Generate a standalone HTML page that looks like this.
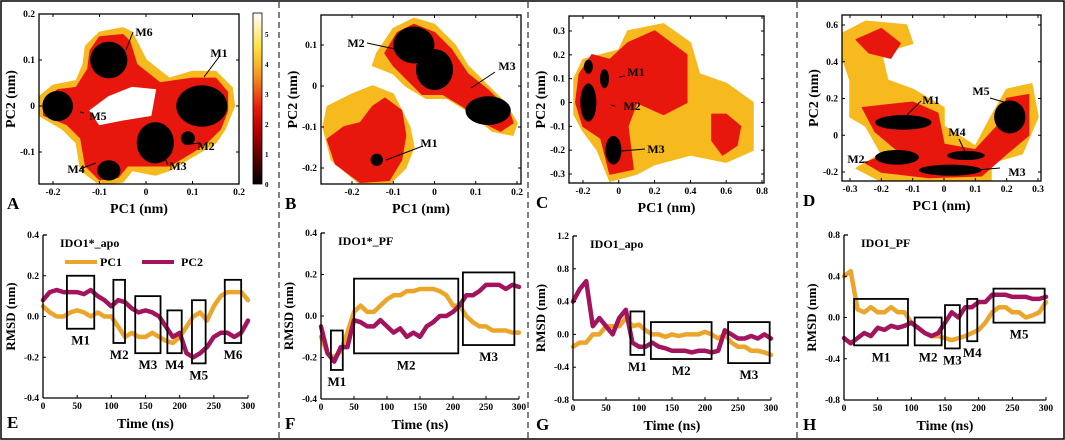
<!DOCTYPE html>
<html><head><meta charset="utf-8">
<style>
html,body{margin:0;padding:0;background:#fff;}
svg{display:block;font-family:"Liberation Serif",serif;font-weight:bold;}
</style></head>
<body>
<svg id="fig" width="1065" height="440" viewBox="0 0 1065 440">
<defs>
<linearGradient id="cbar" x1="0" y1="1" x2="0" y2="0">
<stop offset="0" stop-color="#000"/><stop offset="0.3" stop-color="#b00000"/><stop offset="0.45" stop-color="#e81c0c"/><stop offset="0.65" stop-color="#f5a020"/><stop offset="0.8" stop-color="#ffe040"/><stop offset="1" stop-color="#fff"/>
</linearGradient>
</defs>
</svg>
<script>
// ---------- Line-plot data (value every 10 ns, 0..300) ----------
const timeNs = [0,10,20,30,40,50,60,70,80,90,100,110,120,130,140,150,160,170,180,190,200,210,220,230,240,250,260,270,280,290,300];
const E_pc1 = [0.05,0.02,0.0,0.0,0.02,0.03,0.02,0.0,0.02,0.0,0.0,-0.05,-0.1,-0.08,-0.1,-0.1,-0.08,-0.1,-0.12,-0.13,-0.1,-0.05,0.0,0.02,-0.02,0.05,0.1,0.12,0.12,0.12,0.08];
const E_pc2 = [0.08,0.12,0.13,0.12,0.12,0.12,0.11,0.13,0.1,0.08,0.05,0.08,0.07,0.04,0.02,0.03,0.02,0.0,-0.05,-0.1,-0.08,-0.18,-0.2,-0.18,-0.15,-0.1,-0.08,-0.08,-0.1,-0.08,-0.02];
const F_pc1 = [-0.1,-0.18,-0.2,-0.17,-0.08,0.02,0.05,0.02,0.02,0.05,0.08,0.1,0.1,0.12,0.12,0.13,0.13,0.13,0.12,0.1,0.05,0.05,0.0,-0.03,-0.05,-0.05,-0.07,-0.07,-0.07,-0.08,-0.08];
const F_pc2 = [-0.05,-0.18,-0.22,-0.15,-0.15,-0.02,-0.03,-0.05,-0.05,-0.02,-0.05,-0.08,-0.06,-0.1,-0.08,-0.1,-0.05,-0.03,0.0,0.0,0.02,0.05,0.1,0.1,0.12,0.15,0.15,0.15,0.13,0.15,0.14];
const G_pc1 = [-0.15,-0.1,-0.1,0.0,0.0,0.1,0.1,0.1,0.2,0.1,0.12,0.05,0.0,0.0,-0.03,0.0,-0.02,0.0,0.0,0.0,0.03,0.0,-0.05,0.0,-0.1,-0.15,-0.15,-0.2,-0.2,-0.22,-0.25];
const G_pc2 = [0.4,0.55,0.65,0.1,0.2,0.1,0.0,0.2,0.3,-0.1,-0.15,-0.15,-0.1,-0.15,-0.17,-0.2,-0.2,-0.2,-0.22,-0.2,-0.2,-0.22,-0.2,0.05,0.0,-0.05,-0.05,-0.02,-0.05,0.0,-0.05];
const H_pc1 = [0.4,0.45,0.08,0.05,0.1,0.05,0.05,0.1,0.05,0.05,-0.05,-0.1,-0.15,-0.18,-0.18,-0.2,-0.22,-0.2,-0.18,-0.15,-0.12,-0.05,0.05,0.1,0.1,0.05,0.05,0.0,0.02,0.05,0.15];
const H_pc2 = [-0.2,-0.25,-0.2,-0.15,-0.18,-0.1,-0.12,-0.08,-0.1,-0.08,-0.05,-0.1,-0.15,-0.18,-0.15,-0.05,0.05,0.0,0.1,0.1,0.15,0.15,0.22,0.22,0.22,0.2,0.2,0.2,0.18,0.18,0.2];
// boxes: [t0,t1,y0,y1]
const E_boxes = [[35,75,-0.06,0.2],[103,120,-0.13,0.18],[135,172,-0.18,0.1],[182,203,-0.18,0.03],[218,238,-0.23,0.08],[266,290,-0.13,0.18]];
const F_boxes = [[15,33,-0.26,-0.07],[50,208,-0.18,0.18],[215,293,-0.14,0.21]];
const G_boxes = [[87,108,-0.25,0.28],[118,210,-0.3,0.15],[235,298,-0.35,0.15]];
const H_boxes = [[15,95,-0.27,0.18],[105,145,-0.27,0.0],[150,172,-0.3,0.12],[183,198,-0.23,0.18],[222,298,-0.05,0.28]];
const boxLabels = ["M1","M2","M3","M4","M5","M6"];

// ---------- Free-energy landscape shapes (data units) ----------
const A_yellow = [[-0.23,0.02],[-0.2,0.045],[-0.15,0.055],[-0.135,0.09],[-0.13,0.13],[-0.1,0.16],[-0.05,0.17],[-0.03,0.16],[0,0.1],[0.05,0.06],[0.1,0.075],[0.15,0.075],[0.185,0.04],[0.19,0.0],[0.17,-0.05],[0.15,-0.08],[0.1,-0.11],[0.05,-0.14],[0.02,-0.15],[-0.03,-0.14],[-0.05,-0.165],[-0.1,-0.17],[-0.14,-0.14],[-0.15,-0.08],[-0.18,-0.05],[-0.23,-0.02]];
const A_red = [[-0.22,0.01],[-0.19,0.035],[-0.15,0.04],[-0.125,0.08],[-0.12,0.12],[-0.1,0.15],[-0.05,0.155],[-0.035,0.14],[-0.02,0.09],[0.03,0.05],[0.1,0.06],[0.15,0.06],[0.175,0.03],[0.175,-0.01],[0.16,-0.05],[0.13,-0.08],[0.1,-0.1],[0.05,-0.13],[0.0,-0.13],[-0.04,-0.13],[-0.06,-0.155],[-0.1,-0.16],[-0.13,-0.13],[-0.14,-0.07],[-0.17,-0.04],[-0.22,-0.02]];
const A_holes = [[[-0.12,-0.01],[-0.08,0.02],[-0.03,0.04],[0.02,0.035],[0.01,-0.02],[-0.05,-0.03],[-0.1,-0.04]]];
const A_black = [[0.12,0.0,0.055,0.045],[-0.08,0.1,0.04,0.04],[-0.19,0.0,0.033,0.033],[0.02,-0.08,0.04,0.045],[0.09,-0.07,0.015,0.015],[-0.08,-0.14,0.025,0.022]];
const B_yellow = [[[-0.14,0.08],[-0.1,0.14],[-0.05,0.165],[0,0.15],[0.05,0.1],[0.08,0.05],[0.12,0.01],[0.17,-0.04],[0.2,-0.09],[0.19,-0.12],[0.14,-0.11],[0.08,-0.06],[0.03,-0.03],[-0.02,-0.03],[-0.07,0.0],[-0.1,0.03],[-0.15,0.05]],[[-0.26,-0.05],[-0.2,-0.02],[-0.15,0.0],[-0.1,-0.02],[-0.06,-0.1],[-0.05,-0.15],[-0.07,-0.2],[-0.11,-0.24],[-0.18,-0.24],[-0.25,-0.18],[-0.27,-0.1]]];
const B_red = [[[-0.12,0.08],[-0.09,0.13],[-0.05,0.15],[0,0.13],[0.04,0.09],[0.08,0.03],[0.13,-0.01],[0.18,-0.06],[0.19,-0.09],[0.16,-0.11],[0.12,-0.09],[0.07,-0.05],[0.02,-0.02],[-0.03,-0.02],[-0.07,0.02],[-0.1,0.05]],[[-0.26,-0.13],[-0.22,-0.1],[-0.18,-0.09],[-0.15,-0.05],[-0.12,-0.03],[-0.08,-0.06],[-0.07,-0.12],[-0.08,-0.18],[-0.11,-0.23],[-0.18,-0.235],[-0.24,-0.19]]];
const B_black = [[-0.05,0.1,0.05,0.045],[0.0,0.04,0.045,0.05],[0.13,-0.06,0.055,0.035],[-0.14,-0.18,0.015,0.015]];
const C_yellow = [[[-0.25,0.1],[-0.2,0.18],[0,0.22],[0.05,0.3],[0.25,0.33],[0.4,0.25],[0.45,0.12],[0.6,0.08],[0.75,0.0],[0.75,-0.2],[0.6,-0.25],[0.4,-0.22],[0.2,-0.26],[0.1,-0.3],[-0.05,-0.33],[-0.12,-0.2],[-0.2,-0.12],[-0.25,-0.05]]];
const C_red = [[[-0.22,0.12],[-0.15,0.2],[-0.05,0.18],[0.05,0.25],[0.2,0.3],[0.38,0.2],[0.38,0.0],[0.25,-0.05],[0.1,0.0],[0.05,-0.1],[0.08,-0.28],[-0.05,-0.3],[-0.1,-0.15],[-0.2,-0.1],[-0.24,0.0]],[[0.52,-0.05],[0.6,-0.05],[0.68,-0.1],[0.66,-0.18],[0.58,-0.22],[0.52,-0.16]]];
const C_black = [[-0.17,0.15,0.025,0.03],[-0.08,0.1,0.025,0.04],[-0.17,0.0,0.045,0.08],[-0.03,-0.2,0.045,0.06]];
const D_yellow = [[[-0.33,0.55],[-0.25,0.62],[-0.12,0.6],[-0.1,0.5],[-0.2,0.45],[-0.18,0.3],[-0.1,0.25],[0.0,0.15],[0.0,0.05],[0.1,-0.06],[0.15,0.1],[0.2,0.25],[0.28,0.28],[0.3,0.1],[0.25,-0.1],[0.15,-0.15],[0.15,-0.25],[-0.2,-0.25],[-0.28,-0.18],[-0.2,-0.1],[-0.25,0.05],[-0.3,0.1],[-0.3,0.3],[-0.33,0.45]]];
const D_red = [[[-0.28,0.52],[-0.2,0.58],[-0.14,0.5],[-0.17,0.42],[-0.24,0.45]],[[-0.26,0.15],[-0.1,0.18],[-0.02,0.12],[0.0,-0.05],[0.1,-0.08],[0.17,0.05],[0.2,0.2],[0.27,0.22],[0.27,0.0],[0.2,-0.1],[0.12,-0.22],[-0.05,-0.23],[-0.2,-0.2],[-0.25,-0.15],[-0.15,-0.08],[-0.22,0.02]]];
const D_black = [[-0.13,0.07,0.09,0.04],[-0.15,-0.12,0.07,0.04],[0.02,-0.19,0.1,0.03],[0.07,-0.11,0.06,0.025],[0.21,0.1,0.05,0.09]];

// ---------- tick labels ----------
const A_xt=[-0.2,-0.1,0,0.1,0.2], A_yt=[-0.1,0,0.1,0.2];
const B_xt=[-0.2,-0.1,0,0.1,0.2], B_yt=[-0.2,-0.1,0,0.1];
const C_xt=[-0.2,0,0.2,0.4,0.6,0.8], C_yt=[-0.3,-0.2,-0.1,0,0.1,0.2,0.3];
const D_xt=[-0.3,-0.2,-0.1,0,0.1,0.2,0.3], D_yt=[-0.2,0,0.2,0.4,0.6];
const tTicks=[0,50,100,150,200,250,300];
const E_yt=[-0.4,-0.2,0.0,0.2,0.4], F_yt=[-0.4,-0.2,0.0,0.2,0.4], G_yt=[-0.8,-0.4,0.0,0.4,0.8,1.2], H_yt=[-0.8,-0.4,0.0,0.4,0.8];
const cbarTicks=[0,1,2,3,4,5];

const svg=document.getElementById('fig');
const NS='http://www.w3.org/2000/svg';
function mk(tag,attrs,parent){const e=document.createElementNS(NS,tag);for(const k in attrs)e.setAttribute(k,attrs[k]);(parent||svg).appendChild(e);return e;}
function txt(x,y,s,size,anchor,parent){const t=mk('text',{x:x,y:y,'font-size':size,'text-anchor':anchor||'middle'},parent);t.textContent=s;return t;}
function lin(d0,d1,r0,r1){return v=>r0+(v-d0)/(d1-d0)*(r1-r0);}
function fmt(v,dec){return v.toFixed(dec);}

const fr=mk('rect',{x:1,y:1,width:1063,height:438,fill:'none',stroke:'#000','stroke-width':1.5});

[279,528,797].forEach(x=>{const l=mk('line',{x1:x,y1:2,x2:x,y2:438,stroke:'#000','stroke-width':1,'stroke-dasharray':'6,4'});
});

function contour(cfg){
  const g=mk('g',{});
  
  
  const sx=lin(cfg.xd[0],cfg.xd[1],cfg.xr[0],cfg.xr[1]);
  const sy=lin(cfg.yd[0],cfg.yd[1],cfg.yr[0],cfg.yr[1]);
  const cid='clip'+cfg.id;
  const cp=mk('clipPath',{id:cid},g);
  mk('rect',{x:cfg.px0,y:cfg.py0,width:cfg.px1-cfg.px0,height:cfg.py1-cfg.py0},cp);
  const inner=mk('g',{'clip-path':'url(#'+cid+')'},g);
  const poly=(pts,fill,name)=>{const p=mk('polygon',{points:pts.map(q=>sx(q[0]).toFixed(1)+','+sy(q[1]).toFixed(1)).join(' '),fill:fill,stroke:fill,'stroke-width':1.5,'stroke-linejoin':'round'},inner);
    };
  cfg.yellow.forEach(p=>poly(p,'#f6b91e','contour-level-yellow'));
  cfg.red.forEach(p=>poly(p,'#e8170e','contour-level-red'));
  (cfg.holes||[]).forEach(p=>poly(p,'#fff','contour-hole'));
  cfg.black.forEach(b=>{const e=mk('ellipse',{cx:sx(b[0]),cy:sy(b[1]),rx:Math.abs(sx(b[0]+b[2])-sx(b[0])),ry:Math.abs(sy(b[1]+b[3])-sy(b[1])),fill:'#000'},inner);
    });
  const r=mk('rect',{x:cfg.px0,y:cfg.py0,width:cfg.px1-cfg.px0,height:cfg.py1-cfg.py0,fill:'none',stroke:'#000','stroke-width':1.3},g);
  
  cfg.xt.forEach(v=>{const x=sx(v);mk('line',{x1:x,y1:cfg.py1,x2:x,y2:cfg.py1-3,stroke:'#000'},g);mk('line',{x1:x,y1:cfg.py0,x2:x,y2:cfg.py0+3,stroke:'#000'},g);
    const t=txt(x,cfg.py1+11,v===0?'0':String(v),9.5,'middle',g);});
  cfg.yt.forEach(v=>{const y=sy(v);mk('line',{x1:cfg.px0,y1:y,x2:cfg.px0+3,y2:y,stroke:'#000'},g);mk('line',{x1:cfg.px1,y1:y,x2:cfg.px1-3,y2:y,stroke:'#000'},g);
    const t=txt(cfg.px0-4,y+3,v===0?'0':String(v),9.5,'end',g);});
  const xt=txt((cfg.px0+cfg.px1)/2,cfg.py1+29,'PC1 (nm)',14,'middle',g);
  const yt=txt(0,0,'PC2 (nm)',14,'middle',g);yt.setAttribute('transform','translate('+(cfg.px0-24)+','+((cfg.py0+cfg.py1)/2)+') rotate(-90)');
  
  const pl=txt(cfg.lx,cfg.py1+25,cfg.id,17,'start',g);
  cfg.labels.forEach(L=>{mk('line',{x1:L[0],y1:L[1],x2:L[2],y2:L[3],stroke:'#000','stroke-width':1},g);
    const t=txt(L[4],L[5],L[6],12,'middle',g);});
}

contour({id:'A',xd:[-0.2,0.2],xr:[53,239],yd:[0,0.2],yr:[106,14],px0:39,px1:239,py0:14,py1:184,lx:7,
  yellow:[A_yellow],red:[A_red],holes:A_holes,black:A_black,xt:A_xt,yt:A_yt,
  labels:[[204,77,219,57,219,57,'M1'],[200,143,190,144,206,150,'M2'],[163,154,168,165,178,170,'M3'],[80,169,96,163,76,173,'M4'],[80,112,84,113,98,120,'M5'],[126,50,133,32,144,36,'M6']]});
contour({id:'B',xd:[-0.2,0.2],xr:[352,517],yd:[0,0.1],yr:[86,45],px0:321,px1:521,py0:15,py1:184,lx:285,
  yellow:B_yellow,red:B_red,black:B_black,xt:B_xt,yt:B_yt,
  labels:[[367,43,395,49,356,47,'M2'],[495,72,471,88,507,70,'M3'],[423,146,386,160,429,147,'M1']]});
contour({id:'C',xd:[-0.2,0.8],xr:[583,762],yd:[-0.3,0.3],yr:[174,31],px0:569,px1:764,py0:16,py1:183,lx:536,
  yellow:C_yellow,red:C_red,black:C_black,xt:C_xt,yt:C_yt,
  labels:[[619,77,625,76,636,76,'M1'],[611,105,615,106,632,110,'M2'],[622,151,645,149,656,153,'M3']]});
contour({id:'D',xd:[-0.3,0.3],xr:[850,1038],yd:[-0.2,0.6],yr:[172,25],px0:842,px1:1041,py0:15,py1:181,lx:803,
  yellow:D_yellow,red:D_red,black:D_black,xt:D_xt,yt:D_yt,
  labels:[[907,115,921,101,931,104,'M1'],[863,162,868,162,856,163,'M2'],[965,171,1000,168,1017,176,'M3'],[966,154,959,139,957,136,'M4'],[1004,102,990,98,981,95,'M5']]});

const cb=mk('rect',{x:253,y:13,width:9,height:171,fill:'url(#cbar)',stroke:'#000','stroke-width':0.8});

const cbs=lin(0,5.7,184,13);
cbarTicks.forEach(v=>{const t=txt(265,cbs(v)+3,String(v),7,'start');});

function linePlot(cfg){
  const g=mk('g',{});
  
  
  const sx=lin(0,300,cfg.px0,cfg.px1);
  const sy=lin(cfg.yd[0],cfg.yd[1],cfg.py1,cfg.py0);
  const series=(vals,col,name)=>{const p=mk('polyline',{points:vals.map((v,i)=>sx(timeNs[i]).toFixed(1)+','+sy(v).toFixed(1)).join(' '),fill:'none',stroke:col,'stroke-width':4.5,'stroke-linejoin':'round','stroke-linecap':'round'},g);
    };
  series(cfg.pc1,'#eba52b','pc1-line');
  series(cfg.pc2,'#a3145e','pc2-line');
  cfg.boxes.forEach((b,i)=>{const r=mk('rect',{x:sx(b[0]),y:sy(b[3]),width:sx(b[1])-sx(b[0]),height:sy(b[2])-sy(b[3]),fill:'none',stroke:'#000','stroke-width':1.8},g);
    
    const t=txt((sx(b[0])+sx(b[1]))/2,sy(b[2])+16,boxLabels[i],13,'middle',g);});
  mk('line',{x1:cfg.px0,y1:cfg.py0,x2:cfg.px0,y2:cfg.py1,stroke:'#000','stroke-width':1.3},g);
  mk('line',{x1:cfg.px0,y1:cfg.py1,x2:cfg.px1,y2:cfg.py1,stroke:'#000','stroke-width':1.3},g);
  mk('line',{x1:cfg.px0,y1:cfg.py0,x2:cfg.px0+4,y2:cfg.py0,stroke:'#000','stroke-width':1.3},g);
  tTicks.forEach(v=>{const x=sx(v);mk('line',{x1:x,y1:cfg.py1,x2:x,y2:cfg.py1-3,stroke:'#000'},g);
    const t=txt(x,cfg.py1+11,String(v),9.5,'middle',g);});
  cfg.yt.forEach(v=>{const y=sy(v);mk('line',{x1:cfg.px0,y1:y,x2:cfg.px0+3,y2:y,stroke:'#000'},g);
    const t=txt(cfg.px0-4,y+3,fmt(v,1),9.5,'end',g);});
  const xt=txt((cfg.px0+cfg.px1)/2,cfg.py1+30,'Time (ns)',14,'middle',g);
  const yt=txt(0,0,'RMSD (nm)',13,'middle',g);yt.setAttribute('transform','translate('+(cfg.px0-28)+','+((cfg.py0+cfg.py1)/2)+') rotate(-90)');
  
  const ti=txt(cfg.px0+17,cfg.py0+12,cfg.title,12,'start',g);
  const pl=txt(cfg.lx,cfg.py1+30,cfg.id,17,'start',g);
}
linePlot({id:'E',px0:43,px1:248,py0:235,py1:398,yd:[-0.4,0.4],yt:E_yt,pc1:E_pc1,pc2:E_pc2,boxes:E_boxes,title:'IDO1*_apo',lx:7});
linePlot({id:'F',px0:321,px1:519,py0:233,py1:399,yd:[-0.4,0.4],yt:F_yt,pc1:F_pc1,pc2:F_pc2,boxes:F_boxes,title:'IDO1*_PF',lx:285});
linePlot({id:'G',px0:573,px1:771,py0:236,py1:400,yd:[-0.8,1.2],yt:G_yt,pc1:G_pc1,pc2:G_pc2,boxes:G_boxes,title:'IDO1_apo',lx:536});
linePlot({id:'H',px0:844,px1:1046,py0:235,py1:400,yd:[-0.8,0.8],yt:H_yt,pc1:H_pc1,pc2:H_pc2,boxes:H_boxes,title:'IDO1_PF',lx:803});

const lg=mk('g',{});

mk('line',{x1:65,y1:262,x2:97,y2:262,stroke:'#eba52b','stroke-width':4},lg);
txt(100,266,'PC1',12,'start',lg);
mk('line',{x1:142,y1:262,x2:174,y2:262,stroke:'#a3145e','stroke-width':4},lg);
txt(181,266,'PC2',12,'start',lg);
</script>
</body></html>
